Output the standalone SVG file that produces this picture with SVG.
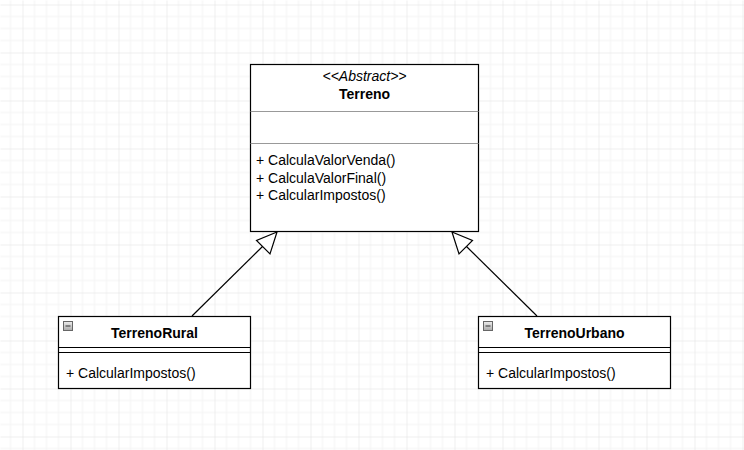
<svg xmlns="http://www.w3.org/2000/svg" width="744" height="450" viewBox="0 0 744 450">
<style>
.box{fill:#fff;stroke:#000;stroke-width:1.2}
.div{stroke:#999;stroke-width:1.2}
.div2{stroke:#000;stroke-width:1.2}
.t{font-family:"Liberation Sans",Arial,sans-serif;font-size:14px;fill:#000}
.b{font-weight:bold}
.i{font-style:italic}
.edge{stroke:#000;stroke-width:1.2;fill:none}
.head{fill:#fff;stroke:#000;stroke-width:1.2}
</style>
<defs>
<pattern id="grid" x="22" y="4" width="48" height="48" patternUnits="userSpaceOnUse">
<path d="M12 0V48M24 0V48M36 0V48M0 12H48M0 24H48M0 36H48" stroke="#f3f3f3" stroke-width="1" fill="none"/>
<path d="M0 0V48M0 0H48" stroke="#e0e0e0" stroke-width="1" fill="none"/>
</pattern>
<linearGradient id="ig" x1="0" y1="0" x2="0" y2="1">
<stop offset="0" stop-color="#eee"/><stop offset="1" stop-color="#aaa"/>
</linearGradient>
</defs>
<rect width="744" height="450" fill="#fff"/>
<rect width="744" height="450" fill="url(#grid)" transform="translate(0.5,0.5)"/>
<g id="edges">
<line class="edge" x1="192" y1="316" x2="263" y2="246"/>
<polygon class="head" points="277,232 270,254 256.5,240.5"/>
<line class="edge" x1="537" y1="316" x2="466" y2="246"/>
<polygon class="head" points="452,232 459,254 472.5,240.5"/>
</g>
<g id="terreno">
<rect class="box" x="250.5" y="64.5" width="228" height="167"/>
<line class="div" x1="250.5" y1="111.5" x2="478.5" y2="111.5"/>
<line class="div" x1="250.5" y1="143.5" x2="478.5" y2="143.5"/>
<text class="t i" x="364.5" y="81" text-anchor="middle">&lt;&lt;Abstract&gt;&gt;</text>
<text class="t b" x="364.5" y="98.5" text-anchor="middle">Terreno</text>
<text class="t" x="256" y="165">+ CalculaValorVenda()</text>
<text class="t" x="256" y="182.5">+ CalculaValorFinal()</text>
<text class="t" x="256" y="200">+ CalcularImpostos()</text>
</g>
<g id="terrenoRural">
<rect class="box" x="58.5" y="316.5" width="192" height="72"/>
<line class="div2" x1="58.5" y1="347.5" x2="250.5" y2="347.5"/>
<line class="div2" x1="58.5" y1="352.5" x2="250.5" y2="352.5"/>
<rect x="63.5" y="321.5" width="9" height="9" fill="url(#ig)" stroke="#666" stroke-width="1"/>
<line x1="65.5" y1="326" x2="70.5" y2="326" stroke="#333" stroke-width="1"/>
<text class="t b" x="154.5" y="338" text-anchor="middle">TerrenoRural</text>
<text class="t" x="66" y="378">+ CalcularImpostos()</text>
</g>
<g id="terrenoUrbano">
<rect class="box" x="478.5" y="316.5" width="192" height="72"/>
<line class="div2" x1="478.5" y1="347.5" x2="670.5" y2="347.5"/>
<line class="div2" x1="478.5" y1="352.5" x2="670.5" y2="352.5"/>
<rect x="483.5" y="321.5" width="9" height="9" fill="url(#ig)" stroke="#666" stroke-width="1"/>
<line x1="485.5" y1="326" x2="490.5" y2="326" stroke="#333" stroke-width="1"/>
<text class="t b" x="574.5" y="338" text-anchor="middle">TerrenoUrbano</text>
<text class="t" x="486" y="378">+ CalcularImpostos()</text>
</g>
</svg>
